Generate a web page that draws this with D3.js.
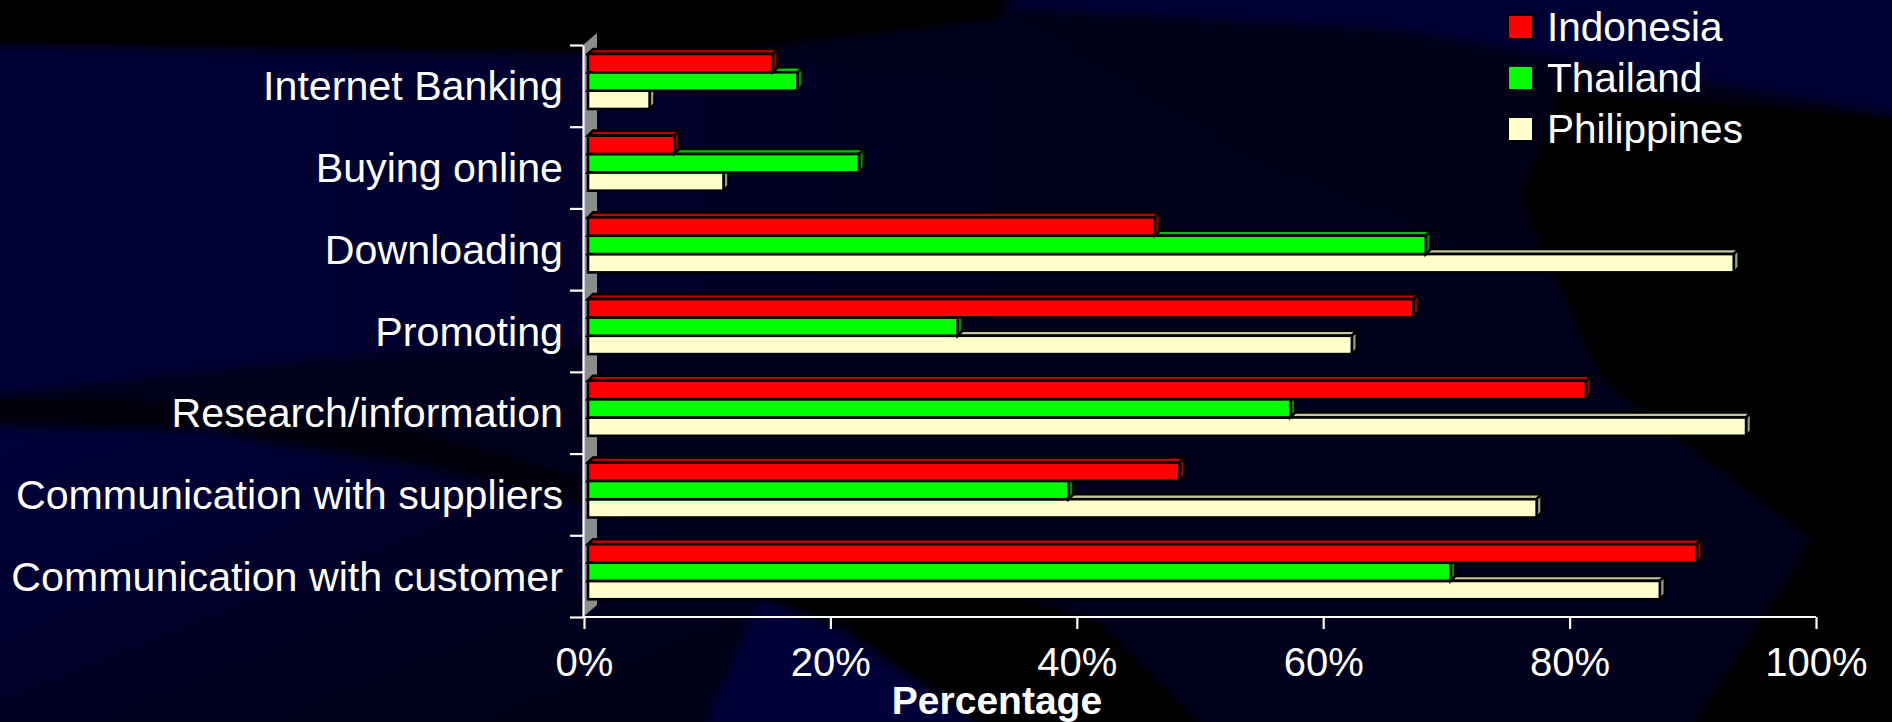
<!DOCTYPE html>
<html>
<head>
<meta charset="utf-8">
<script src="https://cdn.jsdelivr.net/npm/d3@7"></script>
<style>
  html, body { margin: 0; padding: 0; background: #00001a; }
  svg { display: block; }
  text { font-family: "Liberation Sans", Arial, sans-serif; fill: #ffffff; }
</style>
</head>
<body>
<svg id="chart" width="1892" height="722"></svg>
<script>
// ---------------- data ----------------
const categories = [
  "Internet Banking",
  "Buying online",
  "Downloading",
  "Promoting",
  "Research/information",
  "Communication with suppliers",
  "Communication with customer"
];
const seriesNames = ["Indonesia", "Thailand", "Philippines"];
const indonesia   = [15, 7, 46, 67, 81, 48, 90];
const thailand    = [17, 22, 68, 30, 57, 39, 70];
const philippines = [5, 11, 93, 62, 94, 77, 87];
const xTicks = [0, 20, 40, 60, 80, 100];
const xTickLabels = ["0%", "20%", "40%", "60%", "80%", "100%"];
const axisTitle = "Percentage";

const seriesValues = [indonesia, thailand, philippines];
const frontColors = ["#ff0000", "#00ff00", "#ffffcc"];
const topColors   = ["#c00000", "#00c000", "#c4c4a0"];
const sideColors  = ["#900000", "#008a00", "#9a9a80"];

// ---------------- layout ----------------
const W = 1892, H = 722;
const svg = d3.select("#chart");

// background
const defs = svg.append("defs");
defs.append("filter").attr("id", "bgblur").attr("x", "-10%").attr("y", "-10%")
  .attr("width", "120%").attr("height", "120%")
  .append("feGaussianBlur").attr("stdDeviation", 5);
const lg = defs.append("linearGradient").attr("id", "leftband")
  .attr("x1", "0").attr("y1", "0").attr("x2", "1").attr("y2", "0");
lg.append("stop").attr("offset", "0").attr("stop-color", "#000036");
lg.append("stop").attr("offset", "0.6").attr("stop-color", "#00002a");
lg.append("stop").attr("offset", "1").attr("stop-color", "#00001c");
const lg2 = defs.append("linearGradient").attr("id", "lowband")
  .attr("x1", "0").attr("y1", "0").attr("x2", "1").attr("y2", "1");
lg2.append("stop").attr("offset", "0").attr("stop-color", "#00063c");
lg2.append("stop").attr("offset", "1").attr("stop-color", "#000010");

const bg = svg.append("g").attr("filter", "url(#bgblur)");
bg.append("rect").attr("x", -20).attr("y", -20).attr("width", W + 40).attr("height", H + 40).attr("fill", "#00001c");
const bgPolys = [
  {fill: "#000006", pts: [[-20,-20],[1050,-20],[1000,20],[700,56],[300,52],[-20,47]]},
  {fill: "url(#leftband)", pts: [[-20,47],[300,52],[700,58],[1100,90],[1000,300],[600,340],[300,360],[-20,395]]},
  {fill: "#000030", pts: [[1050,-20],[1912,-20],[1912,117],[1400,30],[1000,8]]},
  {fill: "#000012", pts: [[1000,8],[1400,30],[1912,117],[1912,420],[1600,300],[1250,160]]},
  {fill: "#000004", pts: [[1560,90],[1912,117],[1912,742],[1680,742],[1810,540],[1600,380],[1520,200]]},
  {fill: "#000008", pts: [[-20,395],[200,400],[420,430],[600,480],[640,520],[420,468],[200,432],[-20,428]]},
  {fill: "url(#lowband)", pts: [[-20,428],[200,432],[420,468],[640,520],[760,600],[700,742],[-20,742]]},
  {fill: "#000537", pts: [[700,742],[760,600],[840,630],[1000,742]]},
  {fill: "#000004", pts: [[1000,742],[840,630],[760,600],[900,560],[1100,620],[1220,742]]},
  {fill: "#00001e", pts: [[1220,742],[1100,620],[1300,600],[1700,742]]}
];
bg.selectAll("polygon.bg").data(bgPolys).join("polygon")
  .attr("class", "bg")
  .attr("points", d => d.pts.map(p => p.join(",")).join(" "))
  .attr("fill", d => d.fill);

// scales
const x = d3.scaleLinear().domain([0, 100]).range([584, 1816]);
const yTop = 45, yBot = 617;
const y = d3.scaleBand().domain(categories).range([yTop, yBot])
  .paddingInner(0.327).paddingOuter(0.1635);
const ys = d3.scaleBand().domain(d3.range(seriesNames.length)).range([0, y.bandwidth()]);
const yEdges = d3.scaleLinear().domain([0, categories.length]).range([yTop, yBot]);

const depthDX = 4, depthDY = -4.4;
const d = 5;
const wallDX = 14, wallDY = -12;

// wall
svg.append("polygon")
  .attr("points", [[583, yTop], [583 + wallDX, yTop + wallDY], [583 + wallDX, yBot + wallDY], [583, yBot]].map(p => p.join(",")).join(" "))
  .attr("fill", "#8c8c8c");

// bars
const bars = [];
categories.forEach((c, ci) => {
  seriesValues.forEach((vals, si) => {
    bars.push({c, ci, si, v: vals[ci]});
  });
});
bars.sort((a, b) => (a.ci - b.ci) || (b.si - a.si));
const gBars = svg.append("g").attr("stroke", "#000").attr("stroke-width", 2.6).attr("stroke-linejoin", "miter");
bars.forEach(b => {
  const x0 = x(0) + depthDX, x1 = x(b.v) + depthDX;
  const y0 = y(b.c) + ys(b.si) + depthDY, h = ys.bandwidth();
  const g = gBars.append("g");
  g.append("polygon").attr("points", [[x0, y0], [x0 + d, y0 - d], [x1 + d, y0 - d], [x1, y0]].map(p => p.join(",")).join(" "))
    .attr("fill", topColors[b.si]);
  g.append("polygon").attr("points", [[x1, y0], [x1 + d, y0 - d], [x1 + d, y0 + h - d], [x1, y0 + h]].map(p => p.join(",")).join(" "))
    .attr("fill", sideColors[b.si]);
  g.append("rect").attr("x", x0).attr("y", y0).attr("width", x1 - x0).attr("height", h)
    .attr("fill", frontColors[b.si]);
});

// y axis (category boundaries)
const yAxis = d3.axisLeft(yEdges).tickValues(d3.range(categories.length + 1)).tickFormat("").tickSize(13).tickSizeOuter(0);
const gy = svg.append("g").attr("transform", "translate(583,0)").call(yAxis);
gy.selectAll("path, line").attr("stroke", "#fff").attr("stroke-width", 2.2);

// category labels
svg.append("g").selectAll("text").data(categories).join("text")
  .attr("x", 563)
  .attr("y", c => y(c) + y.bandwidth() / 2)
  .attr("dy", "0.355em")
  .attr("text-anchor", "end")
  .style("font-size", "41.2px")
  .text(c => c);

// x axis
const xAxis = d3.axisBottom(x).tickValues(xTicks).tickFormat((t, i) => xTickLabels[i]).tickSize(12).tickSizeOuter(0).tickPadding(20);
const gx = svg.append("g").attr("transform", `translate(0,${yBot})`).call(xAxis);
gx.select(".domain").attr("d", `M583,0H${x(100)}`);
gx.selectAll("path, line").attr("stroke", "#fff").attr("stroke-width", 2.2);
gx.selectAll("text").attr("fill", "#fff").attr("dy", null).attr("y", 59)
  .style("font-size", "40px").style("font-family", "'Liberation Sans', Arial, sans-serif");

// axis title
svg.append("text").attr("x", 997).attr("y", 714).attr("text-anchor", "middle")
  .style("font-size", "39px").style("font-weight", "bold").text(axisTitle);

// legend
const legend = svg.append("g");
seriesNames.forEach((n, i) => {
  const ly = 15 + i * 51;
  legend.append("rect").attr("x", 1508).attr("y", ly).attr("width", 25).attr("height", 24)
    .attr("fill", frontColors[i]).attr("stroke", "#000").attr("stroke-width", 2);
  legend.append("text").attr("x", 1547).attr("y", ly + 26).style("font-size", "40.5px").text(n);
});
</script>
</body>
</html>
